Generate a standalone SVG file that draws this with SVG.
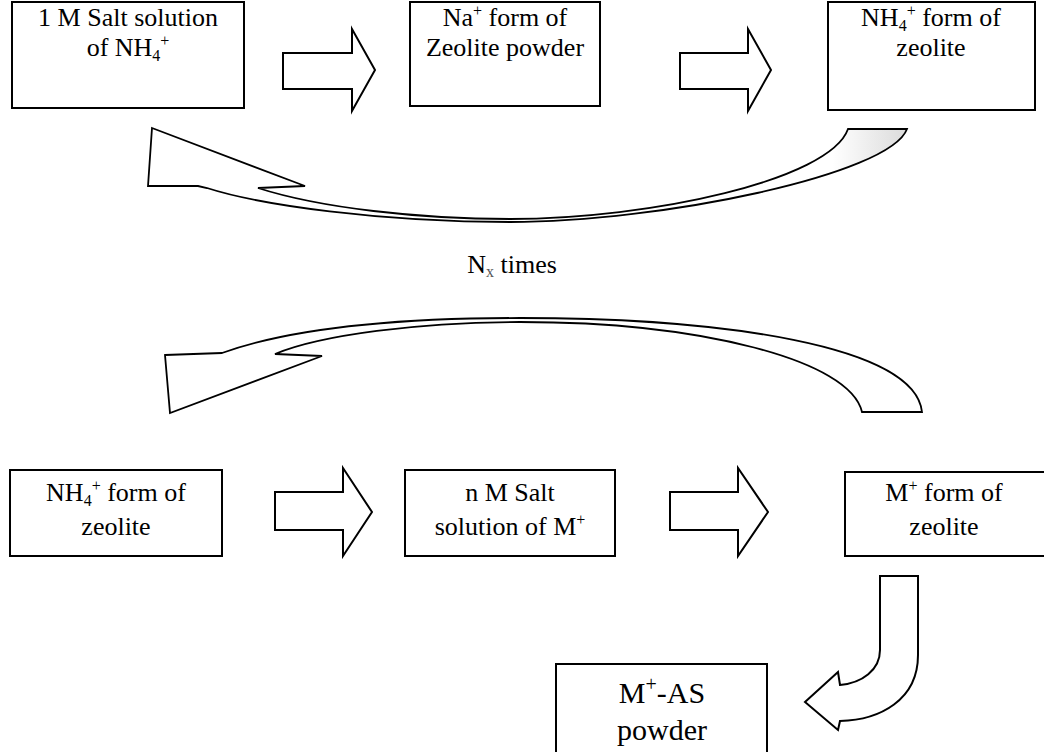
<svg xmlns="http://www.w3.org/2000/svg" width="1044" height="752" viewBox="0 0 1044 752">
<style>
.box{fill:#fff;stroke:#000;stroke-width:2}
.arr{fill:#fff;stroke:#000;stroke-width:2;stroke-linejoin:miter}
.crv{stroke-width:1.8}
.t{font-family:"Liberation Serif","Times New Roman",serif;font-size:26px;fill:#000;text-anchor:middle}
.big{font-size:30px}
.s{font-size:16px}
.sb{font-size:20px}
</style>
<defs>
<linearGradient id="tailshade" gradientUnits="userSpaceOnUse" x1="760" y1="0" x2="905" y2="0">
<stop offset="0" stop-color="#fff"/>
<stop offset="0.5" stop-color="#fff"/>
<stop offset="1" stop-color="#dcdcdc"/>
</linearGradient>
</defs>
<rect width="1044" height="752" fill="#fff"/>

<g id="connectors">
<path id="a1" class="arr" d="M283,53 H352 V29 L375,70 L352,111 V89 H283 Z"/>
<path id="a2" class="arr" d="M680,53 H748 V29 L771,70 L748,111 V89 H680 Z"/>
<path id="a3" class="arr" d="M275,492 H343 V468 L372,512 L343,556 V530 H275 Z"/>
<path id="a4" class="arr" d="M670,492 H738 V468 L768,512 L738,556 V530 H670 Z"/>
<path id="loopback1" class="arr crv" style="fill:url(#tailshade)" d="M152,128 L305,186 L258,188 C320,208 420,219 510,219 C650,219 830,180 848,129 L907,129 C890,175 660,222 510,222 C380,222 260,205 207,188 L198,186 L148,186 Z"/>
<path id="loopback2" class="arr crv" d="M165,355 L222,353 C300,325 420,318 520,318 C720,318 915,345 922,412 L862,412 C850,360 700,322 520,322 C420,322 320,335 275,354 L322,356 L170,413 Z"/>
<path id="uturn" class="arr" d="M880,576 L918,576 L918,655 C918,700 880,720 840,721 L838,730 L805,702 L838,672 L840,685 C862,683 880,670 880,650 Z"/>
</g>

<g id="n1">
<rect class="box" x="12" y="2" width="232" height="106"/>
<text class="t" x="128" y="26">1 M Salt solution</text>
<text class="t" x="128" y="56">of NH<tspan class="s" dy="5">4</tspan><tspan class="s" dy="-15">+</tspan><tspan dy="10"></tspan></text>
</g>
<g id="n2">
<rect class="box" x="410" y="2" width="190" height="104"/>
<text class="t" x="505" y="26">Na<tspan class="s" dy="-10">+</tspan><tspan dy="10"> form of</tspan></text>
<text class="t" x="505" y="56">Zeolite powder</text>
</g>
<g id="n3">
<rect class="box" x="828" y="2" width="207" height="108"/>
<text class="t" x="931" y="26">NH<tspan class="s" dy="5">4</tspan><tspan class="s" dy="-15">+</tspan><tspan dy="10"> form of</tspan></text>
<text class="t" x="931" y="56">zeolite</text>
</g>

<g id="label">
<text class="t" x="512" y="273">N<tspan class="s" dy="4" fill="#555">x</tspan><tspan dy="-4"> times</tspan></text>
</g>

<g id="n4">
<rect class="box" x="10" y="470" width="212" height="86"/>
<text class="t" x="116" y="501">NH<tspan class="s" dy="5">4</tspan><tspan class="s" dy="-15">+</tspan><tspan dy="10"> form of</tspan></text>
<text class="t" x="116" y="535">zeolite</text>
</g>
<g id="n5">
<rect class="box" x="405" y="470" width="210" height="86"/>
<text class="t" x="510" y="501">n M Salt</text>
<text class="t" x="510" y="535">solution of M<tspan class="s" dy="-10">+</tspan></text>
</g>
<g id="n6">
<rect class="box" x="845" y="472" width="200" height="84"/>
<text class="t" x="944" y="501">M<tspan class="s" dy="-10">+</tspan><tspan dy="10"> form of</tspan></text>
<text class="t" x="944" y="535">zeolite</text>
</g>
<g id="n7">
<rect class="box" x="556" y="664" width="211" height="100"/>
<text class="t big" x="662" y="703">M<tspan class="sb" dy="-12">+</tspan><tspan dy="12">-AS</tspan></text>
<text class="t big" x="662" y="740">powder</text>
</g>
</svg>
